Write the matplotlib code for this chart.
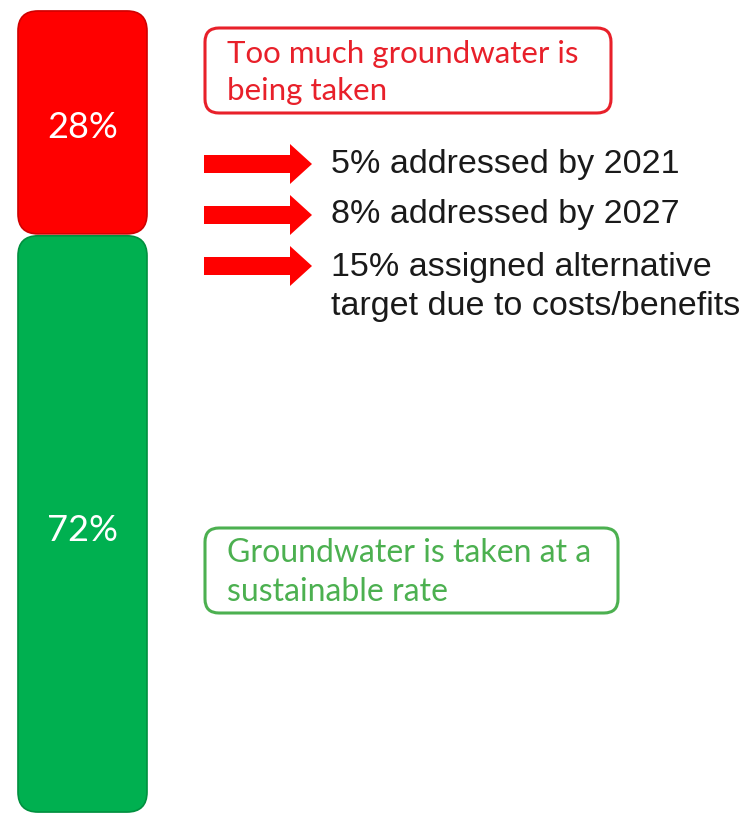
import matplotlib
matplotlib.use("Agg")
import matplotlib.pyplot as plt
from matplotlib.patches import FancyBboxPatch, FancyArrow

# data
shares = [28, 72]
share_labels = ["28%", "72%"]
bar_colors = ["#ff0000", "#00b050"]
edge_colors = ["#d00000", "#00903f"]

box_texts = ["Too much groundwater is\nbeing taken",
             "Groundwater is taken at a\nsustainable rate"]
box_colors = ["#e8202a", "#4cb050"]

arrow_texts = ["5% addressed by 2021",
               "8% addressed by 2027",
               "15% assigned alternative\ntarget due to costs/benefits"]

W, H = 753, 814
fig = plt.figure(figsize=(W / 100, H / 100), dpi=100)

# bar axes: y in percent, spans the height of the stacked bar
ax_bar = fig.add_axes([0, 1 - 813 / H, 1, (813 - 10) / H])
ax_bar.set_xlim(0, W)
ax_bar.set_ylim(100, 0)
ax_bar.axis("off")
px_per_pct = (813 - 10) / 100.0

bottoms = [0, shares[0]]
bars = ax_bar.bar(82.5, shares, bottom=bottoms, width=129)
for rect, col, ec in zip(bars, bar_colors, edge_colors):
    x0, y0 = rect.get_x(), rect.get_y()
    w, h = rect.get_width(), rect.get_height()
    rect.remove()
    gap = 0.12
    patch = FancyBboxPatch((x0, y0 + gap), w, h - 2 * gap,
                           boxstyle="round,pad=0,rounding_size=20",
                           mutation_aspect=1 / px_per_pct,
                           facecolor=col, edgecolor=ec, lw=1.2)
    ax_bar.add_patch(patch)

ax_bar.text(83, 14.6, share_labels[0], color="white", fontsize=26,
            family="Lato", ha="center", va="center")
ax_bar.text(83, 64.8, share_labels[1], color="white", fontsize=26,
            family="Lato", ha="center", va="center")

# annotation axes in pixel coordinates
ax = fig.add_axes([0, 0, 1, 1])
ax.set_xlim(0, W)
ax.set_ylim(H, 0)
ax.axis("off")

box_geom = [(205, 28, 406, 85), (205, 528, 413, 85)]
box_sizes = [22.5, 23]
for (bx, by, bw, bh), txt, col, fs in zip(box_geom, box_texts, box_colors, box_sizes):
    ax.add_patch(FancyBboxPatch((bx, by), bw, bh,
                                boxstyle="round,pad=0,rounding_size=14",
                                facecolor="white", edgecolor=col, lw=2.2))
    ax.text(bx + 22, by + bh / 2 + 2, txt, color=col, fontsize=fs,
            family="Lato", ha="left", va="center", linespacing=1.38)

arrow_y = [164, 215, 266]
for y, txt in zip(arrow_y, arrow_texts):
    ax.add_patch(FancyArrow(204, y, 108, 0, width=18, head_width=40,
                            head_length=22, length_includes_head=True,
                            color="#ff0000", lw=0))
    ty = y + 21 if "\n" in txt else y
    ax.text(331, ty, txt, color="#1a1a1a", fontsize=24.5,
            family="Liberation Sans", ha="left", va="center",
            linespacing=1.32)

fig.savefig("out.png", dpi=100)
